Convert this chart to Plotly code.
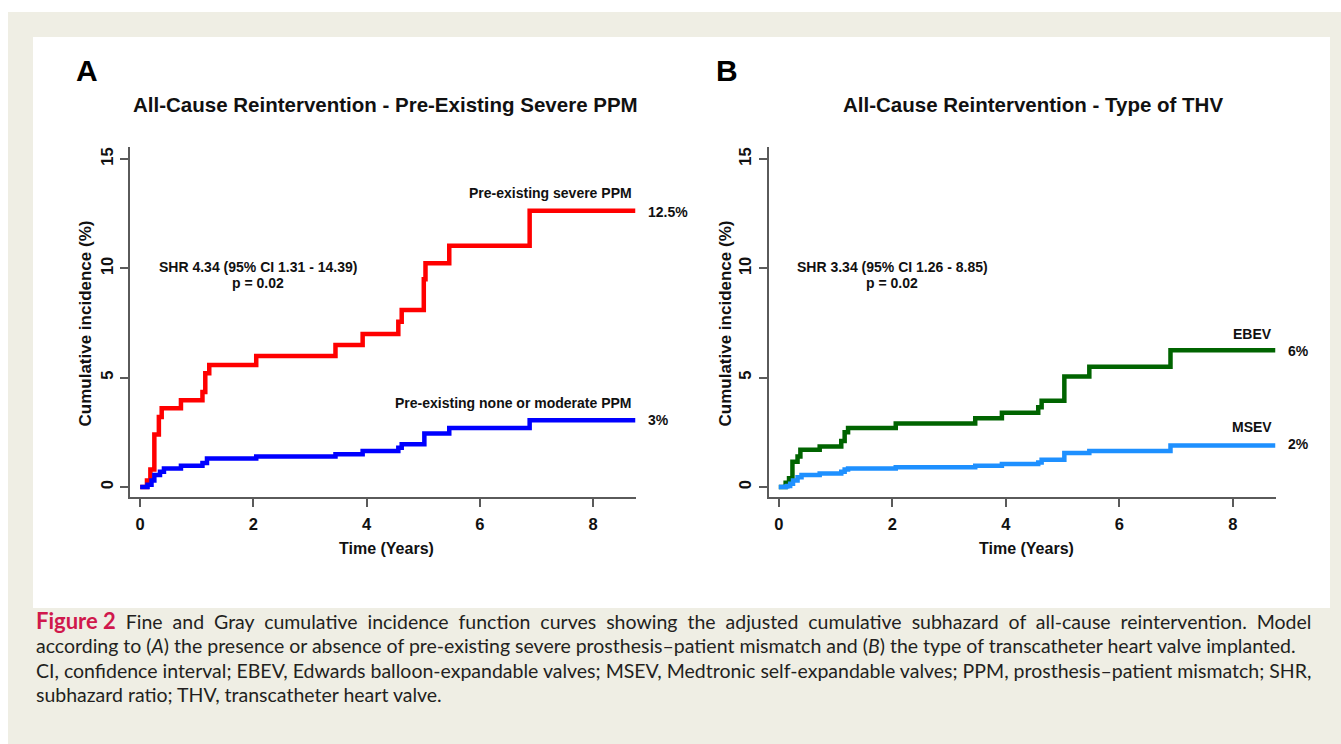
import plotly.graph_objects as go

W, H = 1341, 744

# ---------------- data ----------------
xticks = [0, 2, 4, 6, 8]
yticks = [0, 5, 10, 15]

# Panel A
t_severe = [0, 0.12, 0.18, 0.25, 0.33, 0.38, 0.72, 1.10, 1.15, 1.22, 2.05, 3.45, 3.93, 4.56, 4.62, 5.01, 5.04, 5.46, 6.88, 8.75]
v_severe = [0, 0.3, 0.8, 2.4, 3.2, 3.6, 3.97, 4.35, 5.2, 5.58, 5.99, 6.49, 7.0, 7.56, 8.1, 9.5, 10.23, 11.03, 12.63, 12.63]
t_none = [0, 0.13, 0.2, 0.25, 0.35, 0.42, 0.72, 1.10, 1.18, 2.05, 3.45, 3.93, 4.56, 4.62, 5.02, 5.46, 6.88, 8.75]
v_none = [0, 0.1, 0.3, 0.55, 0.7, 0.85, 0.97, 1.1, 1.3, 1.4, 1.5, 1.65, 1.8, 1.95, 2.45, 2.7, 3.05, 3.05]

# Panel B
t_ebev = [0, 0.12, 0.18, 0.24, 0.33, 0.38, 0.72, 1.10, 1.16, 1.22, 2.06, 3.46, 3.93, 4.57, 4.63, 5.03, 5.47, 6.90, 8.75]
v_ebev = [0, 0.2, 0.4, 1.15, 1.4, 1.7, 1.85, 2.1, 2.5, 2.7, 2.9, 3.15, 3.4, 3.65, 3.95, 5.05, 5.5, 6.25, 6.25]
t_msev = [0, 0.12, 0.15, 0.2, 0.25, 0.33, 0.4, 0.72, 1.10, 1.16, 1.22, 2.06, 3.46, 3.93, 4.57, 4.63, 5.03, 5.47, 6.90, 8.75]
v_msev = [0, 0.02, 0.05, 0.15, 0.3, 0.45, 0.55, 0.62, 0.7, 0.8, 0.85, 0.9, 0.97, 1.05, 1.12, 1.25, 1.55, 1.65, 1.9, 1.9]

titles = ["All-Cause Reintervention - Pre-Existing Severe PPM", "All-Cause Reintervention - Type of THV"]
panel_letters = ["A", "B"]
shr_texts = ["SHR 4.34 (95% CI 1.31 - 14.39)", "SHR 3.34 (95% CI 1.26 - 8.85)"]
p_texts = ["p = 0.02", "p = 0.02"]
group_labels = ["Pre-existing severe PPM", "Pre-existing none or moderate PPM", "EBEV", "MSEV"]
end_labels = ["12.5%", "3%", "6%", "2%"]
x_title = "Time (Years)"
y_title = "Cumulative incidence (%)"

fig_label = "Figure 2"
caption_lines = [
    "Fine and Gray cumulative incidence function curves showing the adjusted cumulative subhazard of all-cause reintervention. Model",
    "according to (<i>A</i>) the presence or absence of pre-existing severe prosthesis–patient mismatch and (<i>B</i>) the type of transcatheter heart valve implanted.",
    "CI, confidence interval; EBEV, Edwards balloon-expandable valves; MSEV, Medtronic self-expandable valves; PPM, prosthesis–patient mismatch; SHR,",
    "subhazard ratio; THV, transcatheter heart valve.",
]
# extra inter-word spacing used to imitate the justified caption
gap_fill = ["\u00a0 ", " ", " ", " "]

# ---------------- figure ----------------
def px(x):
    return x / W

def py(y):
    return 1 - y / H

FONT = "Liberation Sans, Arial, sans-serif"
CAPFONT = "Lato, Open Sans, sans-serif"
AX = "#5a5a5a"

fig = go.Figure()
series = [
    (t_severe, v_severe, "#ff0000", "x", "y"),
    (t_none, v_none, "#0000ff", "x", "y"),
    (t_ebev, v_ebev, "#006400", "x2", "y2"),
    (t_msev, v_msev, "#1e90ff", "x2", "y2"),
]
for t, v, c, xa, ya in series:
    fig.add_trace(go.Scatter(x=t, y=v, mode="lines", line=dict(color=c, width=4.5, shape="hv"),
                             xaxis=xa, yaxis=ya, showlegend=False, hoverinfo="skip"))

xdom = [[px(130), px(635.5)], [px(768.6), px(1275.5)]]
ydom = [py(497), py(147)]

axis_common = dict(showline=True, linecolor=AX, linewidth=1.5, ticks="outside", ticklen=8,
                   tickcolor=AX, tickwidth=1.5, showgrid=False, zeroline=False,
                   tickfont=dict(family=FONT, size=16.5, color="#111", weight="bold"))
layout_axes = {}
for i, sfx in enumerate(["", "2"]):
    layout_axes["xaxis" + sfx] = dict(axis_common, domain=xdom[i], range=[-0.18, 8.75],
                                       tickvals=xticks, anchor="y" + sfx, ticklabelstandoff=3)
    layout_axes["yaxis" + sfx] = dict(axis_common, domain=ydom, range=[-0.457, 15.55],
                                       tickvals=yticks, tickangle=-90, anchor="x" + sfx,
                                       ticklabelstandoff=1)

fig.update_layout(width=W, height=H, margin=dict(l=0, r=0, t=0, b=0),
                  paper_bgcolor="white", plot_bgcolor="white", **layout_axes)

# background panels
fig.add_shape(type="rect", xref="paper", yref="paper", x0=px(8), x1=1, y0=0, y1=py(12),
              fillcolor="#efeee4", line=dict(width=0), layer="below")
fig.add_shape(type="rect", xref="paper", yref="paper", x0=px(33), x1=px(1330), y0=py(608), y1=py(37),
              fillcolor="white", line=dict(width=0), layer="below")

def txt(x, y, s, size, xanchor="center", color="#111", bold=True, angle=0, family=FONT):
    fig.add_annotation(x=px(x), y=py(y), xref="paper", yref="paper", text=(f"<b>{s}</b>" if bold else s),
                       showarrow=False, xanchor=xanchor, yanchor="middle", textangle=angle,
                       font=dict(family=family, size=size, color=color))

# panel texts
letter_x = [87, 727]
title_x = [385, 1033]
xt_x = [386.5, 1026.5]
yt_x = [84.5, 724.5]
shr_x = [258, 892]
for i in range(2):
    txt(letter_x[i], 70, panel_letters[i], 30, color="#000")
    txt(title_x[i], 105, titles[i], 20.5)
    txt(xt_x[i], 548, x_title, 16)
    txt(yt_x[i], 324, y_title, 17, angle=-90)
    txt(shr_x[i], 267, shr_texts[i], 14)
    txt(shr_x[i], 283, p_texts[i], 14)

lab_right = [633.5, 633.5, 1273.5, 1273.5]
lab_y = [193, 403, 334, 427]
end_left = [645.7, 645.7, 1285.7, 1285.7]
end_y = [212, 420, 351, 444]
for i in range(4):
    txt(lab_right[i], lab_y[i], group_labels[i], 14, xanchor="right")
    txt(end_left[i], end_y[i], end_labels[i], 14, xanchor="left")

# caption
cap_y = [620, 645, 670, 694]
for k, (line, y) in enumerate(zip(caption_lines, cap_y)):
    body = line.replace(" ", gap_fill[k])
    if k == 0:
        body = f"<b><span style='color:#d0184c;font-size:22px'>{fig_label}</span></b>" + gap_fill[k] + body
    fig.add_annotation(x=px(34), y=py(y), xref="paper", yref="paper", text=body, showarrow=False,
                       xanchor="left", yanchor="middle",
                       font=dict(family=CAPFONT, size=19.5, color="#231f20"))

fig.write_html("out.html")
